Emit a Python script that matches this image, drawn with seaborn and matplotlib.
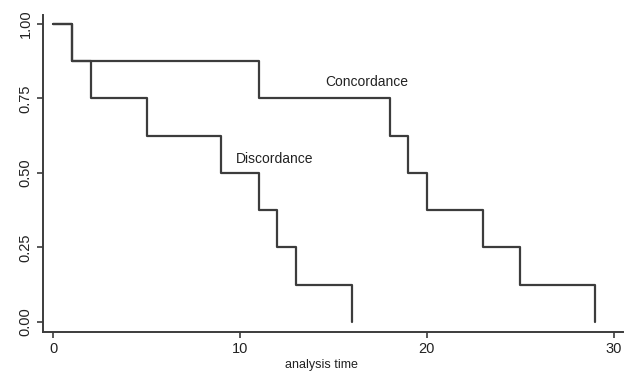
import matplotlib
matplotlib.use("Agg")
import matplotlib.pyplot as plt
import numpy as np
import pandas as pd
import seaborn as sns

sns.set_style("white")
plt.rcParams["font.family"] = ["Liberation Sans", "DejaVu Sans"]

groups = ["Concordance", "Discordance"]
conc_time = [0, 1, 11, 18, 19, 20, 23, 25, 29]
conc_surv = [1.0, 0.875, 0.75, 0.625, 0.5, 0.375, 0.25, 0.125, 0.0]
disc_time = [0, 1, 2, 5, 9, 11, 12, 13, 16]
disc_surv = [1.0, 0.875, 0.75, 0.625, 0.5, 0.375, 0.25, 0.125, 0.0]

df = pd.concat([
    pd.DataFrame({"time": conc_time, "surv": conc_surv, "group": groups[0]}),
    pd.DataFrame({"time": disc_time, "surv": disc_surv, "group": groups[1]}),
])

line_col = "#3c3c3c"

fig = plt.figure(figsize=(6.27, 3.76), dpi=100)
ax = fig.add_axes([0.0686, 0.117, 0.925, 0.843])

sns.lineplot(data=df, x="time", y="surv", hue="group", estimator=None,
             palette={g: line_col for g in groups}, drawstyle="steps-post",
             linewidth=1.6, legend=False, ax=ax)

ax.text(16.8, 0.805, "Concordance", fontsize=10, ha="center", va="center", color="#222222")
ax.text(9.8, 0.547, "Discordance", fontsize=10, ha="left", va="center", color="#222222")

ax.set_xlim(-0.55, 30.5)
ax.set_ylim(-0.034, 1.03)
ax.set_xticks([0, 10, 20, 30])
ax.set_yticks([0, 0.25, 0.5, 0.75, 1.0])
ax.set_yticklabels(["0.00", "0.25", "0.50", "0.75", "1.00"], rotation=90, va="center")
ax.tick_params(axis="both", direction="out", length=4, width=1.2, color=line_col,
               labelsize=10.5, labelcolor="#222222", left=True, bottom=True)
ax.set_xlabel("analysis time", fontsize=9, labelpad=3, color="#222222")
ax.xaxis.set_label_coords(0.48, -0.085)
ax.set_ylabel("")

sns.despine(ax=ax)
for s in ["left", "bottom"]:
    ax.spines[s].set_color(line_col)
    ax.spines[s].set_linewidth(1.4)

fig.savefig("out.png", dpi=100)
